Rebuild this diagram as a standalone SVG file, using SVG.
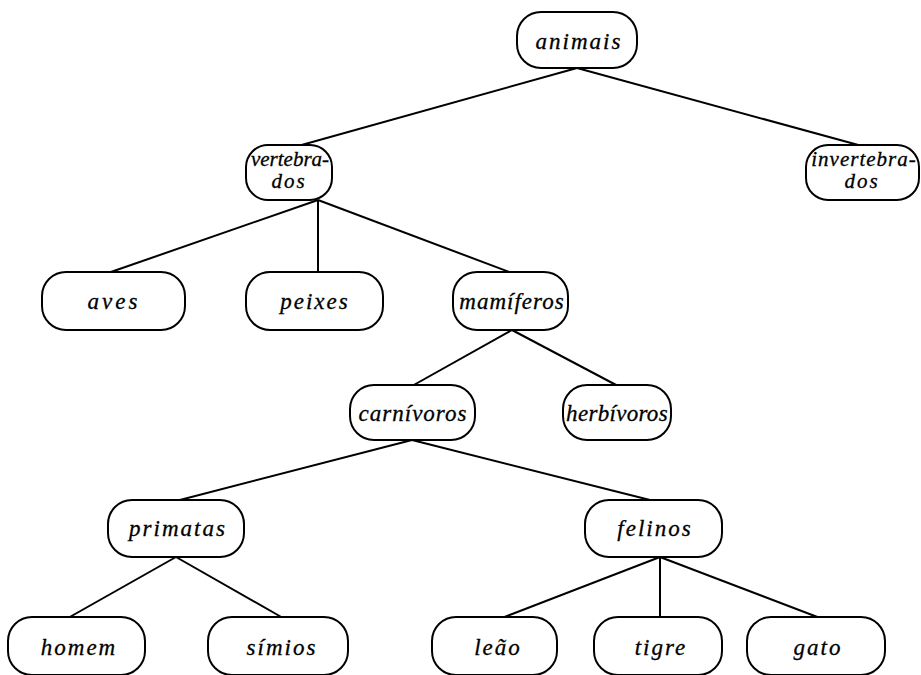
<svg xmlns="http://www.w3.org/2000/svg" width="921" height="675" viewBox="0 0 921 675">
  <style>
    .box { fill: #ffffff; stroke: #000000; stroke-width: 2; }
    .lbl { font-family: "Liberation Serif", "DejaVu Serif", serif; font-style: italic; font-size: 23px; letter-spacing: 2px; text-anchor: middle; fill: #000000; stroke: #000000; stroke-width: 0.3; }
    .lbl2 { font-family: "Liberation Serif", "DejaVu Serif", serif; font-style: italic; font-size: 21px; letter-spacing: 0px; text-anchor: middle; fill: #000000; stroke: #000000; stroke-width: 0.3; }
    .tight { letter-spacing: 1px; }
    .tighter { letter-spacing: 0.3px; }
    .edge { stroke: #000000; stroke-width: 2; fill: none; }
  </style>
  <rect width="921" height="675" fill="#ffffff"/>

  <g id="connectors">
    <line class="edge" x1="577" y1="68" x2="298" y2="146"/>
    <line class="edge" x1="577" y1="68" x2="862" y2="146"/>
    <line class="edge" x1="318" y1="200" x2="108" y2="273"/>
    <line class="edge" x1="318" y1="200" x2="318" y2="273"/>
    <line class="edge" x1="318" y1="200" x2="512" y2="273"/>
    <line class="edge" x1="512" y1="330" x2="412" y2="386"/>
    <line class="edge" x1="512" y1="330" x2="618" y2="386"/>
    <line class="edge" x1="412" y1="440" x2="176" y2="501"/>
    <line class="edge" x1="412" y1="440" x2="654" y2="501"/>
    <line class="edge" x1="176" y1="557" x2="68" y2="618"/>
    <line class="edge" x1="176" y1="557" x2="283" y2="618"/>
    <line class="edge" x1="660" y1="557" x2="502" y2="618"/>
    <line class="edge" x1="660" y1="557" x2="660" y2="618"/>
    <line class="edge" x1="660" y1="557" x2="820" y2="618"/>
  </g>

  <g id="animais">
    <rect class="box" x="517" y="12" width="120" height="56" rx="24"/>
    <text class="lbl" x="579" y="49">animais</text>
  </g>
  <g id="vertebrados">
    <rect class="box" x="246" y="145" width="86" height="55" rx="22"/>
    <text class="lbl2" x="290" y="166">vertebra-</text>
    <text class="lbl2" x="289" y="188" style="letter-spacing:2px">dos</text>
  </g>
  <g id="invertebrados">
    <rect class="box" x="806" y="145" width="113" height="55" rx="22"/>
    <text class="lbl2" x="864" y="166" style="letter-spacing:1px">invertebra-</text>
    <text class="lbl2" x="862" y="188" style="letter-spacing:2px">dos</text>
  </g>
  <g id="aves">
    <rect class="box" x="42" y="272" width="143" height="58" rx="24"/>
    <text class="lbl" x="114" y="309" style="letter-spacing:3px">aves</text>
  </g>
  <g id="peixes">
    <rect class="box" x="246" y="272" width="137" height="58" rx="24"/>
    <text class="lbl" x="315" y="309">peixes</text>
  </g>
  <g id="mamiferos">
    <rect class="box" x="453" y="272" width="115" height="58" rx="24"/>
    <text class="lbl tight" x="512" y="309">mamíferos</text>
  </g>
  <g id="carnivoros">
    <rect class="box" x="350" y="385" width="125" height="55" rx="24"/>
    <text class="lbl tight" x="413" y="421">carnívoros</text>
  </g>
  <g id="herbivoros">
    <rect class="box" x="563" y="385" width="108" height="55" rx="24"/>
    <text class="lbl tighter" x="617" y="421">herbívoros</text>
  </g>
  <g id="primatas">
    <rect class="box" x="108" y="500" width="136" height="57" rx="24"/>
    <text class="lbl" x="178" y="536">primatas</text>
  </g>
  <g id="felinos">
    <rect class="box" x="585" y="500" width="137" height="57" rx="24"/>
    <text class="lbl" x="655" y="536">felinos</text>
  </g>
  <g id="homem">
    <rect class="box" x="8" y="617" width="137" height="58" rx="24"/>
    <text class="lbl" x="79" y="655">homem</text>
  </g>
  <g id="simios">
    <rect class="box" x="208" y="617" width="140" height="58" rx="24"/>
    <text class="lbl" x="282" y="655">símios</text>
  </g>
  <g id="leao">
    <rect class="box" x="432" y="617" width="125" height="58" rx="24"/>
    <text class="lbl" x="498" y="655">leão</text>
  </g>
  <g id="tigre">
    <rect class="box" x="594" y="617" width="128" height="58" rx="24"/>
    <text class="lbl" x="661" y="655">tigre</text>
  </g>
  <g id="gato">
    <rect class="box" x="747" y="617" width="138" height="58" rx="24"/>
    <text class="lbl" x="818" y="655">gato</text>
  </g>
</svg>
